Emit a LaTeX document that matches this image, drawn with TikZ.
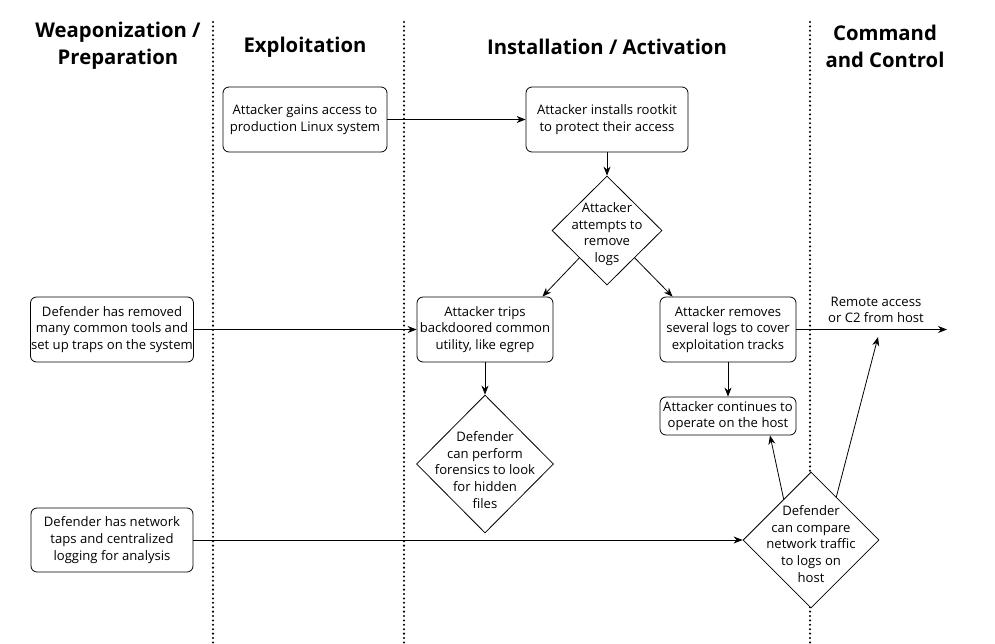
\documentclass[tikz,border=0pt]{standalone}
\usepackage{fontspec}
\setmainfont{Open Sans}
\usetikzlibrary{shapes.geometric,arrows.meta,calc}
\begin{document}
\begin{tikzpicture}[x=1pt,y=-1pt,
  txt/.style={align=center,font=\fontsize{13.1}{16.7}\selectfont,inner sep=0pt},
  head/.style={align=center,font=\fontsize{20.3}{27}\selectfont\bfseries,inner sep=0pt},
  box/.style={draw,line width=0.8pt,rounded corners=6pt,fill=white,txt},
  diam/.style={draw,line width=0.8pt,diamond,fill=white,inner sep=0pt},
  arr/.style={draw,line width=0.8pt,-{Stealth[length=9pt,width=7pt]}},
  lane/.style={line width=2.3pt,line cap=round,dash pattern=on 0pt off 4.4pt}]
\useasboundingbox (0,0) rectangle (995,643);
% lanes
\coordinate (l1t) at (213,22); \coordinate (l1b) at (213,643);
\coordinate (l2t) at (404,22); \coordinate (l2b) at (404,643);
\coordinate (l3t) at (810,22); \coordinate (l3b) at (810,643);
\draw[lane] (l1t) -- (l1b);
\draw[lane] (l2t) -- (l2b);
\draw[lane] (l3t) -- (l3b);
% headings
\node[head] (h1) at (118,46) {Weaponization /\\Preparation};
\node[head] (h2) at (305,47) {Exploitation};
\node[head] (h3) at (607,47) {Installation / Activation};
\node[head] (h4) at (885,46) {Command\\and Control};
% nodes
\node[box,minimum width=164pt,minimum height=65pt] (a1) at (305,119.5) {Attacker gains access to\\production Linux system};
\node[box,minimum width=162pt,minimum height=65pt] (a2) at (607,119.5) {Attacker installs rootkit\\to protect their access};
\node[diam,minimum width=110pt,minimum height=109pt] (d1) at (607,230.5) {};
\node[txt] (d1t) at (607,234) {Attacker\\attempts to\\remove\\logs};
\node[box,minimum width=163pt,minimum height=65pt] (b1) at (112,329.5) {Defender has removed\\many common tools and\\set up traps on the system};
\node[box,minimum width=136pt,minimum height=65pt] (b2) at (485,329.5) {Attacker trips\\backdoored common\\utility, like egrep};
\node[box,minimum width=136pt,minimum height=65pt] (b3) at (728,329.5) {Attacker removes\\several logs to cover\\exploitation tracks};
\node[box,minimum width=136pt,minimum height=38pt] (c3) at (728,416) {Attacker continues to\\operate on the host};
\node[diam,minimum width=137pt,minimum height=138pt] (d2) at (485,464) {};
\node[txt] (d2t) at (485,470) {Defender\\can perform\\forensics to look\\for hidden\\files};
\node[box,minimum width=162pt,minimum height=64pt] (e1) at (112,540) {Defender has network\\taps and centralized\\logging for analysis};
\node[diam,minimum width=136pt,minimum height=136pt] (d3) at (811,540) {};
\node[txt] (d3t) at (811,544) {Defender\\can compare\\network traffic\\to logs on\\host};
\coordinate (out) at (947,329.5);
\coordinate (c2in) at (878,337);
\node[txt] (c2lab) at (876,310) {Remote access\\or C2 from host};
% connectors
\draw[arr] (a1.east) -- (a2.west);
\draw[arr] (a2.south) -- (d1.north);
\draw[arr] (d1.south west) -- ($(b2.north east)+(-11,0)$);
\draw[arr] (d1.south east) -- ($(b3.north west)+(13,0)$);
\draw[arr] (b1.east) -- (b2.west);
\draw[arr] (b3.south) -- (c3.north);
\draw[arr] (b2.south) -- (d2.north);
\draw[arr] (b3.east) -- (out);
\draw[arr] (e1.east) -- (d3.west);
\draw[arr] ($(d3.north)!0.4!(d3.west)$) -- ($(c3.south)+(42,0)$);
\draw[arr] ($(d3.north)!0.37!(d3.east)$) -- (c2in);
\end{tikzpicture}
\end{document}
